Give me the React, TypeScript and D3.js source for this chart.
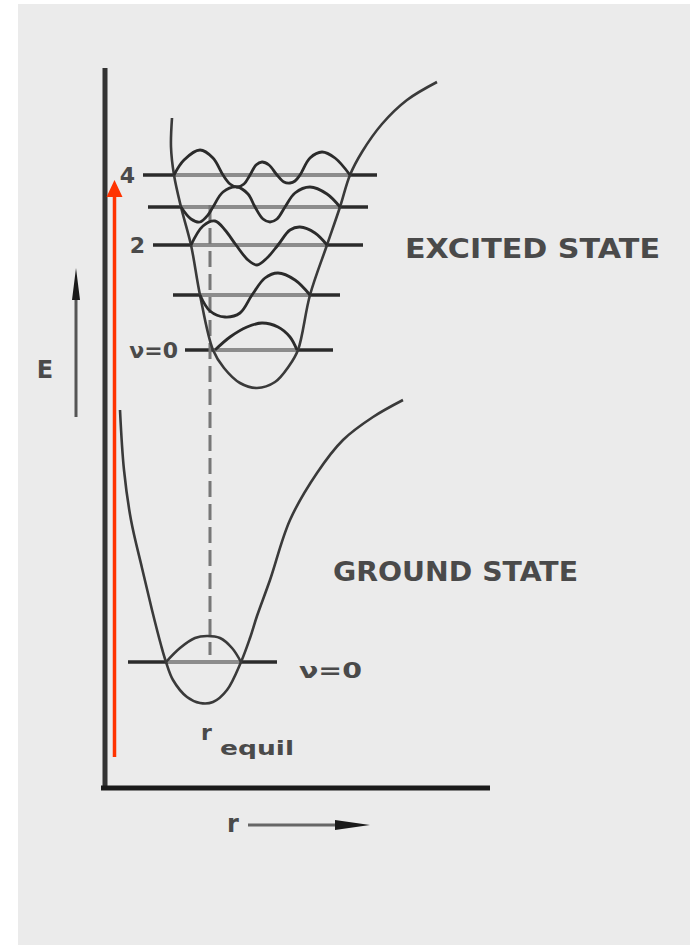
import * as d3 from "d3";

// units: r measured from the vertical axis, E measured up from the r axis
const rMax = 385;
const eMax = 720;

// excited state potential curve (left wall, well bottom, right wall)
const excitedCurve: [number, number][] = [
  [67, 670], [66, 641], [69, 613], [76, 581], [86, 543], [95, 493], [108, 438],
  [119, 420], [135, 405], [152, 400], [170, 406], [184, 422], [193, 438],
  [205, 493], [222, 543], [235, 581], [245, 613], [257, 636], [277, 664],
  [302, 688], [332, 706],
];

// ground state potential curve
const groundCurve: [number, number][] = [
  [15, 378], [19, 318], [26, 268], [37, 220], [47, 178], [56, 143], [61, 126],
  [68, 108], [82, 91], [95, 85], [108, 86], [122, 98], [136, 126], [145, 150],
  [152, 172], [165, 208], [185, 268], [212, 315], [238, 348], [268, 371], [298, 388],
];

// vibrational levels: energy, line extent, turning points
const excitedLevels = [
  { v: 0, e: 438, from: 80, to: 228, left: 108, right: 193 },
  { v: 1, e: 493, from: 68, to: 235, left: 95, right: 205 },
  { v: 2, e: 543, from: 48, to: 258, left: 86, right: 222 },
  { v: 3, e: 581, from: 43, to: 263, left: 76, right: 235 },
  { v: 4, e: 613, from: 38, to: 272, left: 69, right: 245 },
];
const groundLevel = { v: 0, e: 126, from: 23, to: 172, left: 61, right: 136 };

// wavefunctions drawn on each level
const psiExcited: [number, number][][] = [
  [[110, 438], [125, 451], [142, 461], [157, 465], [173, 461], [185, 451], [192, 438]],
  [[95, 493], [105, 477], [120, 471], [135, 475], [147, 493], [160, 510], [173, 515], [190, 508], [205, 493]],
  [[86, 543], [98, 562], [110, 567], [120, 558], [131, 543], [143, 528], [152, 523], [162, 530],
    [173, 543], [185, 558], [195, 561], [210, 555], [222, 543]],
  [[76, 581], [86, 569], [95, 566], [103, 573], [108, 581], [118, 596], [132, 601], [143, 594],
    [150, 581], [158, 569], [165, 566], [172, 569], [180, 581], [190, 595], [205, 601], [222, 594], [235, 581]],
  [[69, 613], [79, 628], [95, 638], [108, 630], [118, 613], [125, 604], [132, 601], [139, 604],
    [145, 613], [151, 623], [157, 626], [164, 623], [172, 613], [179, 606], [185, 605], [190, 607],
    [195, 613], [205, 630], [217, 636], [230, 630], [245, 613]],
];
const psiGround: [number, number][] = [
  [61, 126], [75, 140], [90, 150], [102, 152], [115, 150], [127, 140], [136, 126],
];

// vertical transition and equilibrium distance
const rEquil = 105;
const transitionTop = 583;
const transitionBottom = 133;

const excitedLabels = [
  { v: 4, text: "4", gap: 8 },
  { v: 2, text: "2", gap: 8 },
  { v: 0, text: "ν=0", gap: 7 },
];

export default function App() {
  const width = 690;
  const height = 945;

  const x = d3.scaleLinear([0, rMax], [105, 490]);
  const y = d3.scaleLinear([0, eMax], [788, 68]);

  const curve = d3.line<[number, number]>()
    .x(d => x(d[0]))
    .y(d => y(d[1]))
    .curve(d3.curveCatmullRom.alpha(0.5));

  const ink = "#2b2b2b";
  const textInk = "#4a4a4a";
  const font = "DejaVu Sans, sans-serif";

  const levelMarks = (lv: typeof groundLevel, key: string) => (
    <g key={key}>
      <line x1={x(lv.from)} x2={x(lv.to)} y1={y(lv.e)} y2={y(lv.e)} stroke="#8c8c8c" strokeWidth={4} />
      <line x1={x(lv.from)} x2={x(lv.left)} y1={y(lv.e)} y2={y(lv.e)} stroke={ink} strokeWidth={3} />
      <line x1={x(lv.right)} x2={x(lv.to)} y1={y(lv.e)} y2={y(lv.e)} stroke={ink} strokeWidth={3} />
    </g>
  );

  return (
    <div style={{ position: "absolute", left: 0, top: 0 }}>
      <svg width={width} height={height} style={{ display: "block" }}>
        <rect width={width} height={height} fill="#ffffff" />
        <rect x={18} y={4} width={width - 18} height={height - 4} fill="#ebebeb" />

        {/* axes */}
        <line x1={x(0)} x2={x(0)} y1={y(eMax)} y2={y(0) + 2} stroke="#333" strokeWidth={5} />
        <line x1={x(0) - 4} x2={x(rMax)} y1={y(0)} y2={y(0)} stroke="#1a1a1a" strokeWidth={5} />

        {/* E arrow */}
        <text x={45} y={378} fontFamily={font} fontWeight="bold" fontSize={24} fill={textInk} textAnchor="middle">E</text>
        <line x1={76} x2={76} y1={417} y2={290} stroke="#555" strokeWidth={3} />
        <path d="M76,268 L80,300 L72,300 Z" fill="#1a1a1a" />

        {/* r arrow */}
        <text x={233} y={832} fontFamily={font} fontWeight="bold" fontSize={24} fill={textInk} textAnchor="middle">r</text>
        <line x1={248} x2={340} y1={825} y2={825} stroke="#666" strokeWidth={3} />
        <path d="M370,825 L335,820 L335,830 Z" fill="#1a1a1a" />

        {/* level lines */}
        {excitedLevels.map(lv => levelMarks(lv, `ex${lv.v}`))}
        {levelMarks(groundLevel, "gr0")}

        {/* vertical transition */}
        <line x1={x(rEquil)} x2={x(rEquil)} y1={y(transitionTop)} y2={y(transitionBottom)}
          stroke="#777" strokeWidth={3} strokeDasharray="16 7" />

        {/* potential curves */}
        <path d={curve(excitedCurve) ?? ""} fill="none" stroke="#3a3a3a" strokeWidth={2.6} />
        <path d={curve(groundCurve) ?? ""} fill="none" stroke="#3a3a3a" strokeWidth={2.6} />

        {/* wavefunctions */}
        {psiExcited.map((pts, i) => (
          <path key={i} d={curve(pts) ?? ""} fill="none" stroke={ink} strokeWidth={2.8} />
        ))}
        <path d={curve(psiGround) ?? ""} fill="none" stroke="#3a3a3a" strokeWidth={2.6} />

        {/* level labels */}
        {excitedLabels.map(l => {
          const lv = excitedLevels.find(d => d.v === l.v)!;
          return (
            <text key={l.v} x={x(lv.from) - l.gap} y={y(lv.e) + 8} fontFamily={font} fontWeight="bold"
              fontSize={22} fill={textInk} textAnchor="end">{l.text}</text>
          );
        })}
        <text x={x(groundLevel.to) + 22} y={y(groundLevel.e) + 16} fontFamily={font} fontWeight="bold"
          fontSize={22} fill={textInk} textLength={63} lengthAdjust="spacingAndGlyphs">ν=0</text>

        {/* r equil */}
        <text x={x(rEquil) - 9} y={y(transitionBottom) + 85} fontFamily={font} fontWeight="bold"
          fontSize={22} fill={textInk}>r</text>
        <text x={x(rEquil) + 10} y={y(transitionBottom) + 100} fontFamily={font} fontWeight="bold"
          fontSize={20} fill={textInk} textLength={74} lengthAdjust="spacingAndGlyphs">equil</text>

        {/* state labels */}
        <text x={405} y={258} fontFamily={font} fontWeight="bold" fontSize={26} fill={textInk}
          textLength={255} lengthAdjust="spacingAndGlyphs">EXCITED STATE</text>
        <text x={333} y={581} fontFamily={font} fontWeight="bold" fontSize={26} fill={textInk}
          textLength={245} lengthAdjust="spacingAndGlyphs">GROUND STATE</text>

        {/* red arrow */}
        <line x1={114.5} x2={114.5} y1={757} y2={194} stroke="#ff3300" strokeWidth={3.5} />
        <path d="M114.5,180 L122.5,197 L106.5,197 Z" fill="#ff3300" />
      </svg>
    </div>
  );
}
